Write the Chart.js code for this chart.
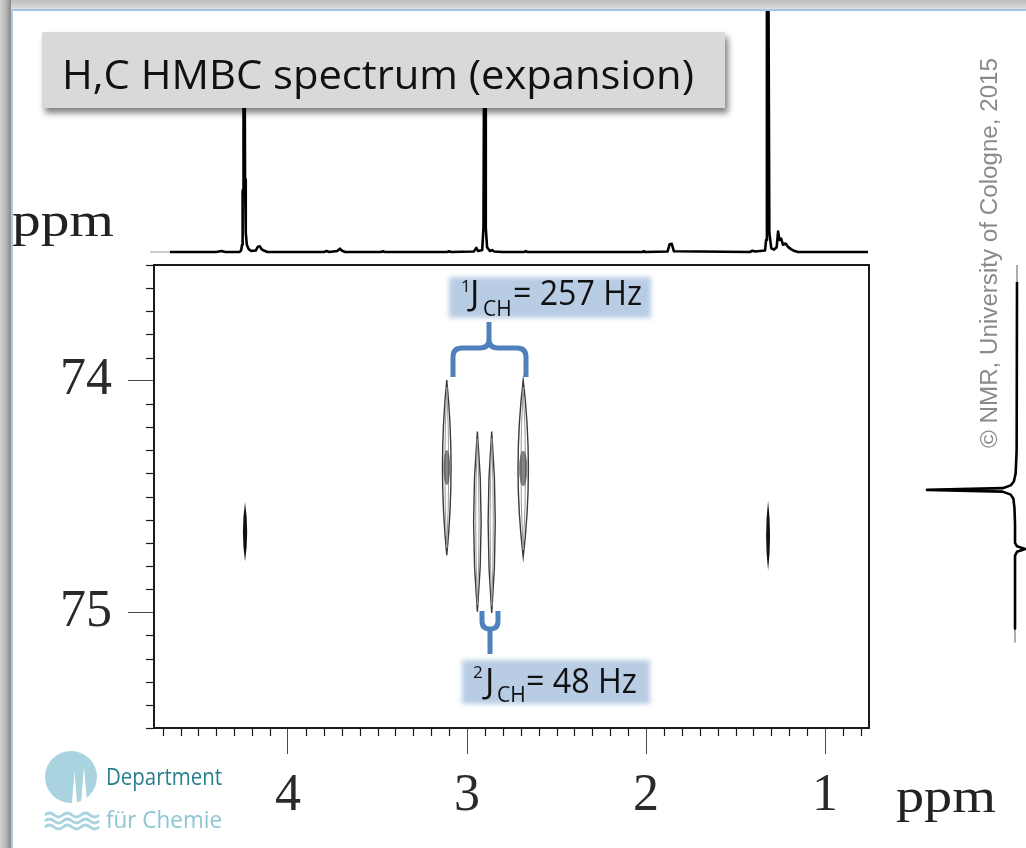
<!DOCTYPE html>
<html>
<head>
<meta charset="utf-8">
<script src="https://cdn.jsdelivr.net/npm/chart.js@4.4.1/dist/chart.umd.min.js"></script>
<style>
  html, body { margin: 0; padding: 0; background: #fff; }
  #page { position: relative; width: 1026px; height: 848px; overflow: hidden; background: #fff; }
  #page canvas, #page svg { position: absolute; left: 0; top: 0; }
</style>
</head>
<body>
<div id="page">
  <canvas id="map" width="1026" height="848"></canvas>
  <canvas id="proton" width="1026" height="848"></canvas>
  <canvas id="carbon" width="1026" height="848"></canvas>
  <svg id="overlay" width="1026" height="848" xmlns="http://www.w3.org/2000/svg">
    <defs>
      <linearGradient id="gTop" x1="0" y1="0" x2="0" y2="1">
        <stop offset="0" stop-color="#bdbdbd"/><stop offset="1" stop-color="#dddddd"/>
      </linearGradient>
      <linearGradient id="gLeft" x1="0" y1="0" x2="1" y2="0">
        <stop offset="0" stop-color="#d2d2d2"/><stop offset="0.55" stop-color="#b4b4b4"/><stop offset="1" stop-color="#878787"/>
      </linearGradient>
      <filter id="shadow" x="-10%" y="-20%" width="130%" height="160%">
        <feDropShadow dx="3" dy="5" stdDeviation="3" flood-color="#000" flood-opacity="0.5"/>
      </filter>
      <filter id="soft" x="-20%" y="-50%" width="140%" height="200%">
        <feGaussianBlur stdDeviation="2.5"/>
      </filter>
    </defs>

    <!-- slide frame -->
    <rect x="0" y="0" width="1026" height="9" fill="url(#gTop)"/>
    <rect x="0" y="9" width="1026" height="2" fill="#a6c1e8"/>
    <rect x="0" y="0" width="11" height="848" fill="url(#gLeft)"/>
    <rect x="11" y="9" width="2" height="839" fill="#b0c8ec"/>

    <!-- title -->
    <rect x="42" y="32" width="683" height="76" fill="#d9d9d9" filter="url(#shadow)"/>
    <text x="62" y="89" font-family="'Open Sans', sans-serif" font-size="41" textLength="632" lengthAdjust="spacingAndGlyphs" fill="#111">H,C HMBC spectrum (expansion)</text>

    <!-- axis units -->
    <text x="12" y="236" font-family="'Liberation Serif', serif" font-size="48" textLength="102" lengthAdjust="spacingAndGlyphs" fill="#222">ppm</text>
    <text x="896" y="812" font-family="'Liberation Serif', serif" font-size="48" textLength="100" lengthAdjust="spacingAndGlyphs" fill="#222">ppm</text>

    <!-- coupling labels -->
    <rect x="449" y="277" width="202" height="41" fill="#b8cce4" filter="url(#soft)"/>
    <g font-family="'Open Sans', sans-serif" fill="#111">
      <text x="461" y="292" font-size="17">1</text>
      <text x="470" y="305" font-size="35">J</text>
      <text x="483" y="316" font-size="21">CH</text>
      <text x="513" y="305" font-size="35" textLength="129" lengthAdjust="spacingAndGlyphs">= 257 Hz</text>
    </g>
    <rect x="462" y="660" width="188" height="44" fill="#b8cce4" filter="url(#soft)"/>
    <g font-family="'Open Sans', sans-serif" fill="#111">
      <text x="473" y="678" font-size="17">2</text>
      <text x="485" y="693" font-size="35">J</text>
      <text x="497" y="702" font-size="21">CH</text>
      <text x="526" y="693" font-size="35" textLength="111" lengthAdjust="spacingAndGlyphs">= 48 Hz</text>
    </g>
    <path d="M453 377 V357 Q453 348 462 348 H480 Q489 348 489 339 V322 M526 377 V357 Q526 348 517 348 H498 Q489 348 489 339"
          stroke="#4f81bd" stroke-width="5" fill="none" stroke-linejoin="round"/>
    <path d="M482 611 V621 Q482 629 490 629 Q498 629 498 621 V611 M490 629 V654"
          stroke="#4f81bd" stroke-width="5" fill="none" stroke-linejoin="round"/>

    <!-- copyright -->
    <text transform="translate(997,448) rotate(-90)" font-family="'Liberation Sans', sans-serif" font-size="23" textLength="390" lengthAdjust="spacingAndGlyphs" fill="#8a8a8a">© NMR, University of Cologne, 2015</text>

    <!-- department logo -->
    <circle cx="71" cy="777" r="26" fill="#a9d4df"/>
    <path d="M72 803 L74.5 771 L77 803 Z M81 803 L84 767 L87 801 Z" fill="#fff"/>
    <g stroke="#a9d4df" stroke-width="3" fill="none">
      <path d="M45 815 q4.5 -4 9 0 t9 0 t9 0 t9 0 t9 0 t9 0"/>
      <path d="M45 821 q4.5 -4 9 0 t9 0 t9 0 t9 0 t9 0 t9 0"/>
      <path d="M45 827 q4.5 -4 9 0 t9 0 t9 0 t9 0 t9 0 t9 0"/>
    </g>
    <text x="106" y="785" font-family="'Open Sans', sans-serif" font-size="24" textLength="116" lengthAdjust="spacingAndGlyphs" fill="#2a7f8f">Department</text>
    <text x="106" y="828" font-family="'Open Sans', sans-serif" font-size="24" textLength="116" lengthAdjust="spacingAndGlyphs" fill="#8ec5d3">für Chemie</text>
  </svg>
</div>
<script>
// axis ranges (ppm) and labelled ticks
const hRange = [0.7542, 4.7486];
const cRange = [73.5, 75.5];
const hTickLabels = [4, 3, 2, 1];
const cTickLabels = [74, 75];

// 1H projection on top: shift (ppm) and relative intensity
const protonLeadPpm = [4.77, 4.66];
const protonLeadInt = [0, 0];
const protonPpm = [
  4.660, 4.400, 4.372, 4.350, 4.272,
  4.262, 4.2565, 4.2535, 4.2505, 4.2485, 4.2425, 4.2400, 4.2360, 4.2300, 4.2200, 4.2050,
  4.180, 4.168, 4.158, 4.148, 4.135, 4.115,
  3.800, 3.785, 3.770, 3.725, 3.710, 3.698, 3.680, 3.480, 3.470, 3.460,
  3.110, 3.100, 3.090, 2.962, 2.948, 2.938, 2.915, 2.908, 2.904, 2.899, 2.895, 2.888, 2.872, 2.860, 2.848, 2.800,
  2.680, 2.672, 2.664, 2.020, 2.012, 2.004, 1.880, 1.868, 1.856, 1.844,
  1.420, 1.405, 1.390, 1.335, 1.329, 1.3245, 1.3200, 1.3155, 1.311, 1.300, 1.285, 1.270, 1.262, 1.255,
  1.245, 1.235, 1.220, 1.205, 1.190, 1.170, 1.150, 0.760
];
const protonInt = [
  0, 0, 0.004, 0, 0,
  0.006, 0.03, 0.25, 0.26, 0.85, 0.85, 0.30, 0.08, 0.03, 0.012, 0.004,
  0.006, 0.022, 0.024, 0.012, 0.006, 0,
  0, 0.004, 0, 0.004, 0.014, 0.005, 0, 0, 0.003, 0,
  0, 0.003, 0, 0.002, 0.017, 0.004, 0.008, 0.10, 0.87, 0.87, 0.10, 0.02, 0.004, 0.008, 0.002, 0,
  0, 0.004, 0, 0, 0.003, 0, 0.002, 0.032, 0.034, 0.003,
  0, 0.005, 0.002, 0.006, 0.05, 1.0, 0.85, 1.0, 0.08, 0.015, 0.01, 0.02, 0.085, 0.05,
  0.055, 0.03, 0.035, 0.02, 0.012, 0.004, 0, 0
];

// 13C projection on the right: shift (ppm) and relative intensity
const carbonPpm = [73.573, 74.300, 74.400, 74.435, 74.452, 74.464, 74.4715, 74.479, 74.492, 74.510,
  74.550, 74.620, 74.700, 74.715, 74.727, 74.739, 74.755, 74.950, 75.070];
const carbonInt = [0, 0.004, 0.015, 0.035, 0.07, 0.16, 1.0, 0.16, 0.07, 0.04,
  0.028, 0.022, 0.022, 0, -0.09, 0, 0.022, 0.022, 0.022];
const carbonEndsPpm = [[73.50, 73.573], [75.07, 75.13]];
const carbonEndsInt = [[0, 0], [0.022, 0.022]];

// cross peaks: long-range (solid), alkyne CH 1J doublet, 2J pair
const lrH = [4.240, 1.318];
const lrC = [74.653, 74.669];
const lrHalfH = [0.012, 0.011];
const lrHalfC = [0.128, 0.151];
const oneBondH = [3.113, 2.686];
const oneBondC = [74.375, 74.379];
const oneBondHalfH = [0.024, 0.029];
const oneBondHalfC = [0.378, 0.382];
const twoBondH = [2.942, 2.862];
const twoBondC = [74.609, 74.611];
const twoBondHalfH = [0.021, 0.02];
const twoBondHalfC = [0.389, 0.392];

const isWhole = v => Math.abs(v - Math.round(v)) < 1e-6;
const pairs = (xs, ys) => xs.map((x, i) => ({ x: x, y: ys[i] }));

// spindle shaped contour (pointed top and bottom)
function spindle(ctx, cx, cy, rx, ry) {
  ctx.beginPath();
  ctx.moveTo(cx, cy - ry);
  ctx.quadraticCurveTo(cx + rx * 2, cy, cx, cy + ry);
  ctx.quadraticCurveTo(cx - rx * 2, cy, cx, cy - ry);
  ctx.closePath();
}

function drawContour(ctx, cx, cy, rx, ry, ds) {
  ctx.save();
  if (ds.contour === 'solid') {
    ctx.fillStyle = '#111';
    spindle(ctx, cx, cy, rx, ry); ctx.fill();
  } else {
    ctx.lineWidth = 1.4; ctx.strokeStyle = '#3a3a3a';
    spindle(ctx, cx, cy, rx, ry); ctx.stroke();
    ctx.lineWidth = 1; ctx.strokeStyle = '#9a9a9a';
    spindle(ctx, cx, cy, rx * 0.45, ry * 0.92); ctx.stroke();
    if (ds.core) {
      ctx.fillStyle = 'rgba(50,50,50,0.6)';
      ctx.beginPath(); ctx.ellipse(cx, cy, rx * 0.8, ry * 0.2, 0, 0, 2 * Math.PI); ctx.fill();
    }
  }
  ctx.restore();
}

const contours = {
  id: 'contours',
  afterDatasetsDraw(chart) {
    const { ctx, scales: { x, y } } = chart;
    chart.data.datasets.forEach((ds, di) => {
      chart.getDatasetMeta(di).data.forEach((pt, i) => {
        const rx = Math.abs(x.getPixelForValue(ds.data[i].x + ds.halfH[i]) - pt.x);
        const ry = Math.abs(y.getPixelForValue(ds.data[i].y + ds.halfC[i]) - pt.y);
        drawContour(ctx, pt.x, pt.y, rx, ry, ds);
      });
    });
  }
};

// short ticks every 0.1 ppm plus the plot frame
const minorTicks = {
  id: 'minorTicks',
  afterDraw(chart) {
    const { ctx, chartArea: a, scales: { x, y } } = chart;
    ctx.save();
    ctx.strokeStyle = '#1a1a1a';
    ctx.lineWidth = 1.2;
    x.ticks.forEach(t => {
      if (isWhole(t.value)) return;
      const px = Math.round(x.getPixelForValue(t.value)) + 0.5;
      ctx.beginPath(); ctx.moveTo(px, a.bottom); ctx.lineTo(px, a.bottom + 8); ctx.stroke();
    });
    y.ticks.forEach(t => {
      if (isWhole(t.value)) return;
      const py = Math.round(y.getPixelForValue(t.value)) + 0.5;
      ctx.beginPath(); ctx.moveTo(a.left, py); ctx.lineTo(a.left - 8, py); ctx.stroke();
    });
    ctx.lineWidth = 2;
    ctx.strokeStyle = '#1a1a1a';
    ctx.strokeRect(a.left, a.top, a.right - a.left, a.bottom - a.top);
    ctx.restore();
  }
};

const tickFont = { family: 'Liberation Serif', size: 52 };
const majorTickColor = c => (c.tick && isWhole(c.tick.value)) ? '#4a4a4a' : 'rgba(0,0,0,0)';

new Chart(document.getElementById('map'), {
  type: 'scatter',
  data: {
    datasets: [
      { label: 'long-range', data: pairs(lrH, lrC), halfH: lrHalfH, halfC: lrHalfC, contour: 'solid', pointRadius: 0 },
      { label: '1J doublet', data: pairs(oneBondH, oneBondC), halfH: oneBondHalfH, halfC: oneBondHalfC,
        contour: 'split', core: true, pointRadius: 0 },
      { label: '2J pair', data: pairs(twoBondH, twoBondC), halfH: twoBondHalfH, halfC: twoBondHalfC,
        contour: 'split', core: false, pointRadius: 0 }
    ]
  },
  options: {
    responsive: false,
    devicePixelRatio: 1,
    animation: false,
    layout: { padding: { left: 0, top: 265, right: 157, bottom: 0 } },
    scales: {
      x: {
        type: 'linear', position: 'bottom', reverse: true, min: hRange[0], max: hRange[1],
        afterFit: s => { s.height = 120; },
        border: { display: false },
        grid: { drawOnChartArea: false, tickLength: 26, tickWidth: 1, tickColor: majorTickColor },
        ticks: {
          stepSize: 0.1, includeBounds: false, autoSkip: false, maxRotation: 0, padding: 11,
          font: tickFont, color: '#2a2a2a',
          callback: v => hTickLabels.some(t => Math.abs(t - v) < 1e-6) ? String(Math.round(v)) : ''
        }
      },
      y: {
        type: 'linear', position: 'left', reverse: true, min: cRange[0], max: cRange[1],
        afterFit: s => { s.width = 154; },
        border: { display: false },
        grid: { drawOnChartArea: false, tickLength: 26, tickWidth: 1, tickColor: majorTickColor },
        ticks: {
          stepSize: 0.1, includeBounds: false, autoSkip: false, padding: 16,
          font: tickFont, color: '#2a2a2a',
          callback: v => cTickLabels.some(t => Math.abs(t - v) < 1e-6) ? String(Math.round(v)) : ''
        }
      }
    },
    plugins: { legend: { display: false }, tooltip: { enabled: false } }
  },
  plugins: [contours, minorTicks]
});

// top 1H trace, sharing the horizontal ppm range of the map
new Chart(document.getElementById('proton'), {
  type: 'scatter',
  data: {
    datasets: [
      { data: pairs(protonLeadPpm, protonLeadInt), showLine: true, borderColor: '#9a9a9a', borderWidth: 1, pointRadius: 0, clip: false },
      { data: pairs(protonPpm, protonInt), showLine: true, borderColor: '#000', borderWidth: 2.6,
        borderJoinStyle: 'round', pointRadius: 0, clip: false }
    ]
  },
  options: {
    responsive: false,
    devicePixelRatio: 1,
    animation: false,
    layout: { padding: { left: 154, right: 157, top: 10, bottom: 596 } },
    scales: {
      x: { type: 'linear', reverse: true, min: hRange[0], max: hRange[1], display: false },
      y: { type: 'linear', min: 0, max: 1, display: false }
    },
    plugins: { legend: { display: false }, tooltip: { enabled: false } }
  }
});

// right 13C trace, sharing the vertical ppm range of the map
new Chart(document.getElementById('carbon'), {
  type: 'scatter',
  data: {
    datasets: [
      { data: pairs(carbonInt, carbonPpm), showLine: true, borderColor: '#000', borderWidth: 2.6,
        borderJoinStyle: 'round', pointRadius: 0, clip: false },
      { data: pairs(carbonEndsInt[0], carbonEndsPpm[0]), showLine: true, borderColor: '#a0a0a0', borderWidth: 1, pointRadius: 0, clip: false },
      { data: pairs(carbonEndsInt[1], carbonEndsPpm[1]), showLine: true, borderColor: '#a0a0a0', borderWidth: 1, pointRadius: 0, clip: false }
    ]
  },
  options: {
    responsive: false,
    devicePixelRatio: 1,
    animation: false,
    layout: { padding: { left: 927, right: 9, top: 265, bottom: 120 } },
    scales: {
      x: { type: 'linear', reverse: true, min: 0, max: 1, display: false },
      y: { type: 'linear', reverse: true, min: cRange[0], max: cRange[1], display: false }
    },
    plugins: { legend: { display: false }, tooltip: { enabled: false } }
  }
});
</script>
</body>
</html>
